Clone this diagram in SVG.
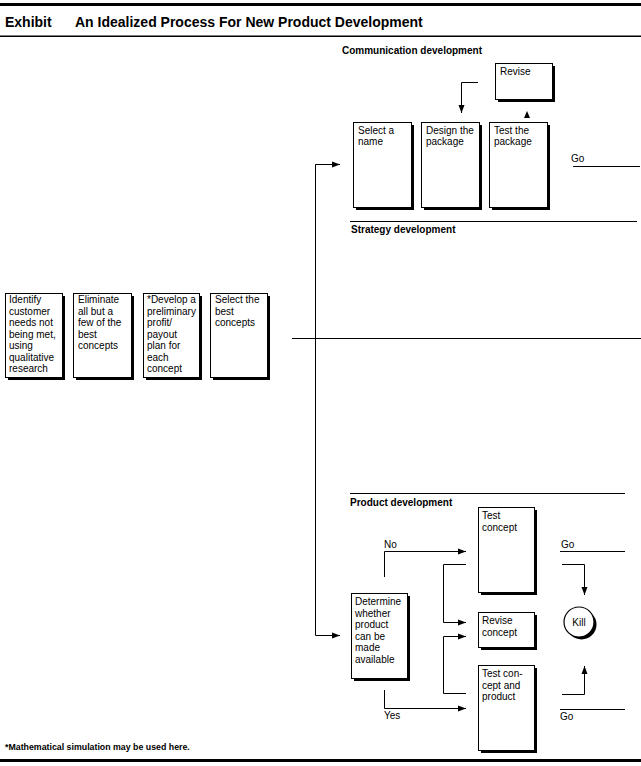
<svg xmlns="http://www.w3.org/2000/svg" width="641" height="766" viewBox="0 0 641 766">
<style>
text{font-family:"Liberation Sans",Arial,sans-serif;fill:#000}
.t{font-size:10px}
.h{font-size:10px;font-weight:bold}
.ttl{font-size:14px;font-weight:bold}
.sh{fill:#000}
.bx{fill:#fff;stroke:#000;stroke-width:1}
.ln{fill:none;stroke:#000;stroke-width:1}
</style>
<defs>
<marker id="ah" viewBox="0 0 8 8" refX="8" refY="4" markerWidth="8" markerHeight="8" markerUnits="userSpaceOnUse" orient="auto">
<path d="M0,1 L8,4 L0,7 Z" fill="#000"/>
</marker>
</defs>
<rect width="641" height="766" fill="#fff"/>
<g id="header">
<rect x="0" y="3" width="641" height="3" fill="#000"/>
<text x="5" y="27" class="ttl">Exhibit</text>
<text x="75" y="27" class="ttl">An Idealized Process For New Product Development</text>
<rect x="0" y="35.5" width="641" height="1.5" fill="#000"/>
</g>
<g id="section-labels">
<text x="342" y="54" class="h">Communication development</text>
<line x1="350" y1="221.5" x2="637" y2="221.5" class="ln"/>
<text x="351" y="233" class="h">Strategy development</text>
<line x1="350" y1="493.5" x2="625" y2="493.5" class="ln"/>
<text x="350" y="506" class="h">Product development</text>
</g>
<g id="connectors">
<line x1="292" y1="338.5" x2="641" y2="338.5" class="ln"/>
<polyline points="340,164.5 315.5,164.5 315.5,635.5 340,635.5" class="ln" marker-end="url(#ah)"/>
<line x1="315.5" y1="164.5" x2="340" y2="164.5" class="ln" marker-end="url(#ah)"/>
<polyline points="478,82.5 461.5,82.5 461.5,113" class="ln" marker-end="url(#ah)"/>
<path d="M524,118 L527,111 L530,118 Z" fill="#000"/>
<line x1="573" y1="166.5" x2="640" y2="166.5" class="ln"/>
<polyline points="384.5,577 384.5,551.5 466,551.5" class="ln" marker-end="url(#ah)"/>
<polyline points="466,564.5 443.5,564.5 443.5,622.5 466,622.5" class="ln" marker-end="url(#ah)"/>
<polyline points="466,693.5 443.5,693.5 443.5,636.5 466,636.5" class="ln" marker-end="url(#ah)"/>
<polyline points="384.5,690 384.5,708.5 466,708.5" class="ln" marker-end="url(#ah)"/>
<line x1="560" y1="551.5" x2="625" y2="551.5" class="ln"/>
<polyline points="562,564.5 584.5,564.5 584.5,595" class="ln" marker-end="url(#ah)"/>
<polyline points="562,694.5 584.5,694.5 584.5,666" class="ln" marker-end="url(#ah)"/>
<line x1="560" y1="709.5" x2="625" y2="709.5" class="ln"/>
<text x="571" y="162" class="t">Go</text>
<text x="384" y="548" class="t">No</text>
<text x="561" y="548" class="t">Go</text>
<text x="384" y="719" class="t">Yes</text>
<text x="560" y="720" class="t">Go</text>
</g>
<g id="n-identify">
<rect x="8" y="296" width="57" height="84" class="sh"/>
<rect x="5.5" y="293.5" width="57" height="84" class="bx"/>
<text class="t"><tspan x="9" y="303">Identify</tspan><tspan x="9" y="314.5">customer</tspan><tspan x="9" y="326">needs not</tspan><tspan x="9" y="337.5">being met,</tspan><tspan x="9" y="349">using</tspan><tspan x="9" y="360.5">qualitative</tspan><tspan x="9" y="372">research</tspan></text>
</g>
<g id="n-eliminate">
<rect x="76" y="296" width="58" height="84" class="sh"/>
<rect x="73.5" y="293.5" width="58" height="84" class="bx"/>
<text class="t"><tspan x="78" y="303">Eliminate</tspan><tspan x="78" y="314.5">all but a</tspan><tspan x="78" y="326">few of the</tspan><tspan x="78" y="337.5">best</tspan><tspan x="78" y="349">concepts</tspan></text>
</g>
<g id="n-develop">
<rect x="146" y="296" width="56" height="84" class="sh"/>
<rect x="143.5" y="293.5" width="56" height="84" class="bx"/>
<text class="t"><tspan x="147" y="303">*Develop a</tspan><tspan x="147" y="314.5">preliminary</tspan><tspan x="147" y="326">profit/</tspan><tspan x="147" y="337.5">payout</tspan><tspan x="147" y="349">plan for</tspan><tspan x="147" y="360.5">each</tspan><tspan x="147" y="372">concept</tspan></text>
</g>
<g id="n-select-best">
<rect x="213" y="296" width="57" height="84" class="sh"/>
<rect x="210.5" y="293.5" width="57" height="84" class="bx"/>
<text class="t"><tspan x="215" y="303">Select the</tspan><tspan x="215" y="314.5">best</tspan><tspan x="215" y="326">concepts</tspan></text>
</g>
<g id="n-revise">
<rect x="498" y="66" width="57" height="36" class="sh"/>
<rect x="495.5" y="63.5" width="57" height="36" class="bx"/>
<text x="500" y="75" class="t">Revise</text>
</g>
<g id="n-select-name">
<rect x="356" y="125" width="58" height="85" class="sh"/>
<rect x="353.5" y="122.5" width="58" height="85" class="bx"/>
<text class="t"><tspan x="358" y="134">Select a</tspan><tspan x="358" y="145">name</tspan></text>
</g>
<g id="n-design">
<rect x="424" y="125" width="58" height="85" class="sh"/>
<rect x="421.5" y="122.5" width="58" height="85" class="bx"/>
<text class="t"><tspan x="426" y="134">Design the</tspan><tspan x="426" y="145">package</tspan></text>
</g>
<g id="n-test-package">
<rect x="492" y="125" width="58" height="85" class="sh"/>
<rect x="489.5" y="122.5" width="58" height="85" class="bx"/>
<text class="t"><tspan x="494" y="134">Test the</tspan><tspan x="494" y="145">package</tspan></text>
</g>
<g id="n-determine">
<rect x="354" y="596" width="56" height="85" class="sh"/>
<rect x="351.5" y="593.5" width="56" height="85" class="bx"/>
<text class="t"><tspan x="355" y="605">Determine</tspan><tspan x="355" y="616.5">whether</tspan><tspan x="355" y="628">product</tspan><tspan x="355" y="639.5">can be</tspan><tspan x="355" y="651">made</tspan><tspan x="355" y="662.5">available</tspan></text>
</g>
<g id="n-test-concept">
<rect x="481" y="510" width="56" height="85" class="sh"/>
<rect x="478.5" y="507.5" width="56" height="85" class="bx"/>
<text class="t"><tspan x="482" y="519">Test</tspan><tspan x="482" y="530.5">concept</tspan></text>
</g>
<g id="n-revise-concept">
<rect x="481" y="615" width="56" height="35" class="sh"/>
<rect x="478.5" y="612.5" width="56" height="35" class="bx"/>
<text class="t"><tspan x="482" y="624">Revise</tspan><tspan x="482" y="635.5">concept</tspan></text>
</g>
<g id="n-test-concept-product">
<rect x="481" y="668" width="56" height="85" class="sh"/>
<rect x="478.5" y="665.5" width="56" height="85" class="bx"/>
<text class="t"><tspan x="482" y="677">Test con-</tspan><tspan x="482" y="688.5">cept and</tspan><tspan x="482" y="700">product</tspan></text>
</g>
<g id="n-kill">
<circle cx="581.5" cy="624.5" r="15" fill="#000"/>
<circle cx="579" cy="622" r="15" fill="#fff" stroke="#000" stroke-width="1.2"/>
<text x="579" y="625.5" class="t" text-anchor="middle">Kill</text>
</g>
<g id="footer">
<text x="5" y="750" style="font-size:8.8px;font-weight:bold">*Mathematical simulation may be used here.</text>
<rect x="0" y="759" width="641" height="3" fill="#000"/>
</g>
</svg>
